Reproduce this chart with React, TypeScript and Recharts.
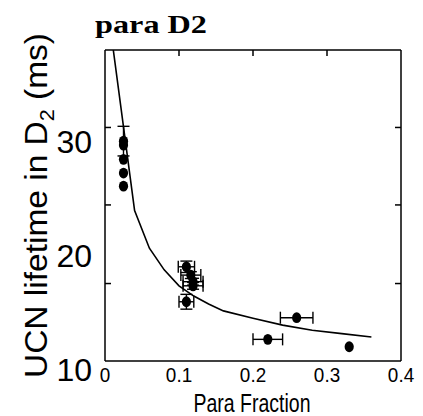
import { ComposedChart, XAxis, YAxis, Line, Scatter, ErrorBar, Label } from 'recharts';

// axis ticks
const xTicks = [0, 0.1, 0.2, 0.3, 0.4];
const yTicks = [10, 20, 30];
const yMarkTicks = [16.8, 23.7, 30.5];
const topMarkTicks = [0.1, 0.2, 0.3];

// measured points
const paraFraction = [0.025, 0.025, 0.025, 0.025, 0.025, 0.11, 0.116, 0.119, 0.119, 0.11, 0.259, 0.22, 0.33];
const lifetime = [29.3, 28.95, 27.7, 26.5, 25.35, 18.27, 17.54, 16.96, 16.6, 15.2, 13.8, 11.9, 11.25];
const paraErr = [0, 0, 0, 0, 0, 0.011, 0.0135, 0.0135, 0.0135, 0.01, 0.022, 0.02, 0];
const lifeErr = [1.3, 0, 0, 0, 0, 0.5, 0.3, 0.3, 0.3, 0.65, 0, 0, 0];

// fit curve
const fitP = [0.01, 0.04, 0.06, 0.08, 0.1, 0.12, 0.14, 0.16, 0.2, 0.24, 0.28, 0.32, 0.36];
const fitT = [37.9, 23.2, 19.9, 18.0, 16.6, 15.7, 15.0, 14.4, 13.75, 13.15, 12.7, 12.4, 12.1];

const points = paraFraction.map((p, i) => ({ p, t: lifetime[i], ex: paraErr[i], ey: lifeErr[i] }));
const curve = fitP.map((p, i) => ({ p, t: fitT[i] }));

const Y_DOMAIN: [number, number] = [10, 37.3];
const X_DOMAIN: [number, number] = [0, 0.4];
const SANS = 'Liberation Sans, Arial, sans-serif';
const AXIS = { stroke: '#000', strokeWidth: 1.5 };

const XTick = ({ x, y, payload }: any) => (
  <g transform={`translate(${x},${y}) scale(0.9,1)`}>
    <text x={0} y={0} dy={21} textAnchor="middle" fontFamily={SANS} fontSize={21} fill="#000">
      {String(payload.value)}
    </text>
  </g>
);

const YTick = ({ x, y, payload }: any) => (
  <text x={x} y={y} dy={19.5} textAnchor="end" fontFamily={SANS} fontSize={32} fill="#000">
    {payload.value}
  </text>
);

const NoTick = () => <g />;

const YTitle = () => (
  <text
    transform="translate(47,205.5) rotate(-90)"
    textAnchor="middle"
    fontFamily={SANS}
    fontSize={31}
    fill="#000"
    textLength={345}
    lengthAdjust="spacingAndGlyphs"
  >
    UCN lifetime in D<tspan fontSize={20} dy={7}>2</tspan>
    <tspan dy={-7}> (ms)</tspan>
  </text>
);

const XTitle = () => (
  <text
    x={252}
    y={411.5}
    textAnchor="middle"
    fontFamily={SANS}
    fontSize={25}
    fill="#000"
    textLength={117}
    lengthAdjust="spacingAndGlyphs"
  >
    Para Fraction
  </text>
);

const ChartTitle = () => (
  <text
    x={151}
    y={33}
    textAnchor="middle"
    fontFamily="Liberation Serif, Times New Roman, serif"
    fontWeight="bold"
    fontSize={25}
    fill="#000"
    textLength={112}
    lengthAdjust="spacingAndGlyphs"
  >
    para D2
  </text>
);

const Dot = ({ cx, cy }: any) => <ellipse cx={cx} cy={cy} rx={4.6} ry={5.4} fill="#000" />;

export default function App() {
  return (
    <div style={{ position: 'absolute', left: 0, top: 0, background: '#fff' }}>
      <ComposedChart width={423} height={416} margin={{ top: 50, right: 22, bottom: 0, left: 0 }}>
        <XAxis
          dataKey="p"
          type="number"
          domain={X_DOMAIN}
          ticks={xTicks}
          height={55}
          tickSize={0}
          tickMargin={0}
          tickLine={false}
          axisLine={AXIS}
          tick={<XTick />}
          interval={0}
        >
          <Label content={<XTitle />} />
        </XAxis>
        <XAxis
          xAxisId="top"
          dataKey="p"
          orientation="top"
          mirror
          type="number"
          domain={X_DOMAIN}
          ticks={topMarkTicks}
          tickSize={6}
          tickLine={AXIS}
          axisLine={AXIS}
          tick={<NoTick />}
          interval={0}
        >
          <Label content={<ChartTitle />} />
        </XAxis>
        <YAxis
          dataKey="t"
          type="number"
          domain={Y_DOMAIN}
          allowDataOverflow
          ticks={yTicks}
          width={105}
          tickSize={0}
          tickMargin={13}
          tickLine={false}
          axisLine={AXIS}
          tick={<YTick />}
          interval={0}
        >
          <Label content={<YTitle />} />
        </YAxis>
        <YAxis
          yAxisId="lm"
          dataKey="t"
          orientation="left"
          mirror
          type="number"
          domain={Y_DOMAIN}
          allowDataOverflow
          ticks={yMarkTicks}
          tickSize={6}
          tickLine={AXIS}
          axisLine={false}
          tick={<NoTick />}
          interval={0}
        />
        <YAxis
          yAxisId="rm"
          dataKey="t"
          orientation="right"
          mirror
          type="number"
          domain={Y_DOMAIN}
          allowDataOverflow
          ticks={yMarkTicks}
          tickSize={6}
          tickLine={AXIS}
          axisLine={AXIS}
          tick={<NoTick />}
          interval={0}
        />
        {/* invisible series so the frame axes get drawn */}
        <Line
          data={curve}
          dataKey="t"
          xAxisId="top"
          yAxisId="rm"
          stroke="none"
          dot={false}
          activeDot={false}
          isAnimationActive={false}
        />
        <Line
          data={curve}
          dataKey="t"
          yAxisId="lm"
          stroke="none"
          dot={false}
          activeDot={false}
          isAnimationActive={false}
        />
        <Line
          data={curve}
          dataKey="t"
          type="linear"
          stroke="#000"
          strokeWidth={1.6}
          dot={false}
          activeDot={false}
          isAnimationActive={false}
        />
        <Scatter data={points} dataKey="t" shape={<Dot />} isAnimationActive={false}>
          <ErrorBar dataKey="ex" direction="x" width={6} stroke="#000" strokeWidth={1.4} />
          <ErrorBar dataKey="ey" direction="y" width={6} stroke="#000" strokeWidth={1.4} />
        </Scatter>
      </ComposedChart>
    </div>
  );
}
